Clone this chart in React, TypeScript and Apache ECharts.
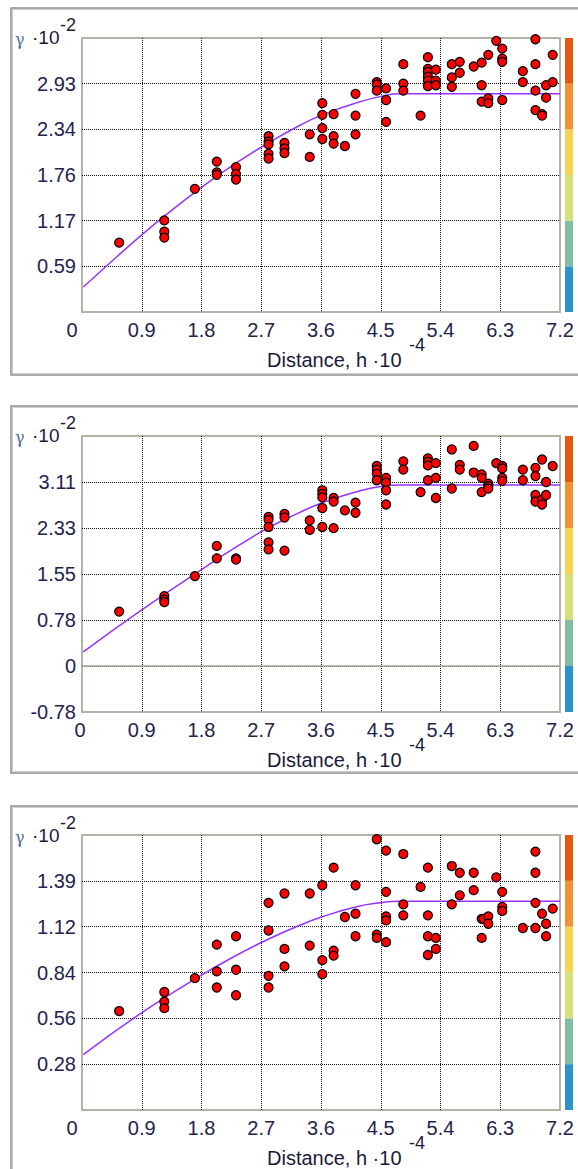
import React, { useEffect, useRef } from 'react';
import * as echarts from 'echarts';

// ---------- data ----------
const xTickLabels = ['0', '0.9', '1.8', '2.7', '3.6', '4.5', '5.4', '6.3', '7.2'];
const xMin = 0;
const xMax = 7.2;
const xInterval = 0.9;

const p1YLabels = ['0', '0.59', '1.17', '1.76', '2.34', '2.93', '3.52'];
const p1YMin = 0;
const p1YInterval = 0.586;

const p2YLabels = ['-0.78', '0', '0.78', '1.55', '2.33', '3.11', '3.89'];
const p2YMin = -0.7775;
const p2YInterval = 0.7775;

const p3YLabels = ['0', '0.28', '0.56', '0.84', '1.12', '1.39', '1.67'];
const p3YMin = 0;
const p3YInterval = 0.2788;

const p1Points = [
  [0.56, 0.89], [1.24, 1.175], [1.24, 1.03], [1.24, 0.955], [1.70, 1.58], [2.03, 1.93], [2.03, 1.79], [2.03, 1.76],
  [2.32, 1.86], [2.32, 1.77], [2.32, 1.70], [2.81, 2.255], [2.81, 2.19], [2.81, 2.15], [2.81, 2.03], [2.81, 1.97],
  [3.05, 2.17], [3.05, 2.10], [3.05, 2.04], [3.43, 2.28], [3.43, 1.99], [3.62, 2.68], [3.62, 2.53], [3.62, 2.36],
  [3.62, 2.22], [3.79, 2.54], [3.79, 2.255], [3.79, 2.16], [3.96, 2.13], [4.12, 2.80], [4.12, 2.52], [4.12, 2.28],
  [4.44, 2.95], [4.44, 2.92], [4.44, 2.84], [4.58, 2.87], [4.58, 2.72], [4.58, 2.44], [4.84, 3.18], [4.84, 2.93],
  [4.84, 2.84], [5.10, 2.52], [5.21, 3.27], [5.21, 3.12], [5.21, 3.08], [5.21, 3.02], [5.21, 2.97], [5.21, 2.90],
  [5.33, 3.11], [5.33, 2.97], [5.33, 2.91], [5.57, 3.18], [5.57, 3.01], [5.57, 2.89], [5.69, 3.21], [5.69, 3.07],
  [5.90, 3.54], [5.90, 3.15], [6.02, 3.20], [6.02, 2.91], [6.02, 2.70], [6.12, 3.30], [6.12, 2.74], [6.12, 2.68],
  [6.24, 3.48], [6.33, 3.38], [6.33, 3.25], [6.33, 3.21], [6.33, 2.72], [6.64, 3.09], [6.64, 2.95], [6.83, 3.50],
  [6.83, 3.18], [6.83, 2.84], [6.83, 2.59], [6.93, 2.54], [6.93, 2.52], [6.99, 2.91], [6.99, 2.75], [7.09, 3.30],
  [7.09, 2.95],
];
const p1Model = [
  [0.02, 0.32], [0.5, 0.69], [0.9, 0.99], [1.24, 1.23], [1.8, 1.60], [2.32, 1.91], [2.81, 2.17], [3.29, 2.40],
  [3.62, 2.53], [4.12, 2.68], [4.52, 2.77], [4.80, 2.80], [7.2, 2.80],
];

const p2Points = [
  [0.56, 0.92], [1.24, 1.18], [1.24, 1.12], [1.24, 1.08], [1.70, 1.52], [2.03, 2.03], [2.03, 1.82], [2.32, 1.82],
  [2.32, 1.80], [2.81, 2.52], [2.81, 2.47], [2.81, 2.35], [2.81, 2.09], [2.81, 1.97], [3.05, 2.57], [3.05, 2.51],
  [3.05, 1.95], [3.43, 2.46], [3.43, 2.30], [3.62, 2.97], [3.62, 2.91], [3.62, 2.85], [3.62, 2.67], [3.62, 2.35],
  [3.79, 2.84], [3.79, 2.78], [3.79, 2.33], [3.96, 2.63], [4.12, 2.76], [4.12, 2.59], [4.44, 3.38], [4.44, 3.32],
  [4.44, 3.25], [4.44, 3.14], [4.58, 3.18], [4.58, 3.10], [4.58, 2.97], [4.58, 2.73], [4.84, 3.46], [4.84, 3.32],
  [5.10, 2.94], [5.21, 3.51], [5.21, 3.45], [5.21, 3.39], [5.21, 3.14], [5.33, 3.43], [5.33, 3.18], [5.33, 2.84],
  [5.57, 3.91], [5.57, 3.66], [5.57, 3.00], [5.69, 3.40], [5.69, 3.32], [5.90, 3.72], [5.90, 3.27], [6.02, 3.24],
  [6.02, 3.18], [6.02, 2.94], [6.12, 3.08], [6.12, 3.04], [6.12, 3.00], [6.24, 3.43], [6.33, 3.38], [6.33, 3.34],
  [6.33, 3.18], [6.33, 3.13], [6.64, 3.32], [6.64, 3.14], [6.83, 3.35], [6.83, 3.21], [6.83, 2.89], [6.83, 2.78],
  [6.93, 3.49], [6.93, 2.81], [6.93, 2.73], [6.99, 3.11], [6.99, 2.89], [7.09, 3.38],
];
const p2Model = [
  [0.02, 0.24], [0.9, 0.95], [1.8, 1.63], [2.7, 2.27], [3.29, 2.60], [3.62, 2.76], [4.12, 2.94], [4.52, 3.04],
  [4.8, 3.06], [7.2, 3.06],
];

const p3Points = [
  [0.56, 0.602], [1.24, 0.718], [1.24, 0.659], [1.24, 0.620], [1.70, 0.802], [2.03, 1.006], [2.03, 0.843],
  [2.03, 0.745], [2.32, 1.057], [2.32, 0.853], [2.32, 0.698], [2.81, 1.26], [2.81, 1.092], [2.81, 0.816],
  [2.81, 0.745], [3.05, 1.317], [3.05, 0.98], [3.05, 0.874], [3.43, 1.317], [3.43, 1.0], [3.62, 1.367],
  [3.62, 0.912], [3.62, 0.827], [3.79, 1.474], [3.79, 0.969], [3.79, 0.939], [3.96, 1.174], [4.12, 1.367],
  [4.12, 1.194], [4.12, 1.057], [4.44, 1.647], [4.44, 1.067], [4.44, 1.047], [4.58, 1.578], [4.58, 1.327],
  [4.58, 1.178], [4.58, 1.153], [4.58, 1.021], [4.84, 1.557], [4.84, 1.251], [4.84, 1.184], [5.10, 1.357],
  [5.21, 1.474], [5.21, 1.184], [5.21, 1.057], [5.21, 0.943], [5.33, 1.047], [5.33, 0.98], [5.57, 1.484],
  [5.57, 1.251], [5.69, 1.443], [5.69, 1.306], [5.90, 1.443], [5.90, 1.337], [6.02, 1.163], [6.05, 1.163],
  [6.02, 1.047], [6.12, 1.178], [6.12, 1.133], [6.24, 1.415], [6.33, 1.327], [6.33, 1.235], [6.33, 1.211],
  [6.64, 1.107], [6.83, 1.572], [6.83, 1.443], [6.83, 1.26], [6.83, 1.107], [6.93, 1.194], [6.99, 1.133],
  [6.99, 1.057], [7.09, 1.225],
];
const p3Model = [
  [0.02, 0.337], [0.93, 0.600], [1.8, 0.82], [2.32, 0.94], [2.81, 1.04], [3.29, 1.125], [3.62, 1.175],
  [4.12, 1.235], [4.52, 1.262], [4.75, 1.27], [7.2, 1.27],
];

// colour bar bands, bottom to top
const bandColors = ['#2d94c9', '#7fbea0', '#d3e17c', '#f6d453', '#ef9334', '#e2590f'];
const bandValues = [1, 1, 1, 1, 1, 1];

const yTitleBase = 'γ';
const yTitleUnit = '·10';
const yTitleExp = '-2';
const xTitleText = 'Distance, h ·10';
const xTitleExp = '-4';

// ---------- layout ----------
const FONT = '"Liberation Sans", Arial, sans-serif';
const LABEL_COLOR = '#23234f';
const TICK_FONT = 20;
const panels = [
  { frameTop: 8, plotTop: 38, plotHeight: 274, yMin: p1YMin, yInt: p1YInterval, yLabels: p1YLabels, showYMin: false, zeroOffset: -10, points: p1Points, model: p1Model, zeroLine: false },
  { frameTop: 406, plotTop: 436, plotHeight: 276, yMin: p2YMin, yInt: p2YInterval, yLabels: p2YLabels, showYMin: true, zeroOffset: -2, points: p2Points, model: p2Model, zeroLine: true },
  { frameTop: 806, plotTop: 835, plotHeight: 275, yMin: p3YMin, yInt: p3YInterval, yLabels: p3YLabels, showYMin: false, zeroOffset: -10, points: p3Points, model: p3Model, zeroLine: false },
];
const PLOT_LEFT = 82;
const PLOT_WIDTH = 478;

function buildOption() {
  const grid: any[] = [];
  const xAxis: any[] = [];
  const yAxis: any[] = [];
  const series: any[] = [];
  const graphic: any[] = [];

  panels.forEach((p, i) => {
    const yMax = p.yMin + p.yInt * (p.yLabels.length - 1);
    const gi = grid.length;
    grid.push({
      left: PLOT_LEFT, top: p.plotTop, width: PLOT_WIDTH, height: p.plotHeight,
      show: true, borderColor: '#b6b2a6', borderWidth: 2, backgroundColor: '#fff', z: 0,
    });
    grid.push({ left: 565, top: p.plotTop, width: 8, height: p.plotHeight });

    const pad = -p.zeroOffset * 2;
    xAxis.push({
      gridIndex: gi, type: 'value', min: xMin, max: xMax, interval: xInterval,
      axisLine: { show: false }, axisTick: { show: false },
      splitLine: { show: true, showMinLine: false, showMaxLine: false, lineStyle: { color: '#111', type: [1, 1], width: 1 } },
      axisLabel: {
        margin: 8, fontSize: TICK_FONT, fontFamily: FONT, color: LABEL_COLOR,
        formatter: (v: number) => {
          const idx = Math.round((v - xMin) / xInterval);
          return idx === 0 ? '{z|' + xTickLabels[0] + '}' : xTickLabels[idx];
        },
        rich: { z: { fontSize: TICK_FONT, fontFamily: FONT, color: LABEL_COLOR, padding: [0, pad, 0, 0] } },
      },
    });
    yAxis.push({
      gridIndex: gi, type: 'value', min: p.yMin, max: yMax, interval: p.yInt,
      axisLine: { show: false }, axisTick: { show: false },
      splitLine: { show: true, showMinLine: false, showMaxLine: false, lineStyle: { color: '#111', type: [1, 1], width: 1 } },
      axisLabel: {
        margin: 6, fontSize: TICK_FONT, fontFamily: FONT, color: LABEL_COLOR,
        showMinLabel: p.showYMin, showMaxLabel: false,
        formatter: (v: number) => p.yLabels[Math.round((v - p.yMin) / p.yInt)],
      },
    });
    xAxis.push({ gridIndex: gi + 1, type: 'category', data: ['c'], show: false });
    yAxis.push({ gridIndex: gi + 1, type: 'value', min: 0, max: 6, show: false });

    series.push({
      type: 'line', xAxisIndex: gi, yAxisIndex: gi, data: p.model, showSymbol: false,
      smooth: 0.5, lineStyle: { color: '#9933ff', width: 1.5 }, z: 3,
      markLine: p.zeroLine ? {
        silent: true, symbol: 'none', label: { show: false },
        lineStyle: { color: '#aaa69a', width: 1.5, type: 'solid' },
        data: [{ yAxis: 0 }],
      } : undefined,
    });
    series.push({
      type: 'scatter', xAxisIndex: gi, yAxisIndex: gi, data: p.points, symbolSize: 9,
      itemStyle: { color: '#ff0000', borderColor: '#000', borderWidth: 1.2, opacity: 1 }, z: 4,
    });
    bandValues.forEach((v, k) => {
      series.push({
        type: 'bar', xAxisIndex: gi + 1, yAxisIndex: gi + 1, stack: 'cb' + i, data: [v],
        barWidth: '100%', itemStyle: { color: bandColors[k] },
      });
    });

    // frame
    graphic.push({
      type: 'rect', shape: { x: 11, y: p.frameTop, width: 580, height: 367 },
      style: { fill: 'none', stroke: '#8e8e8e', lineWidth: 1.5 }, z: 10,
    });
    graphic.push({
      type: 'rect', shape: { x: 12.5, y: p.frameTop + 1.5, width: 580, height: 364 },
      style: { fill: 'none', stroke: '#d0cdc4', lineWidth: 1 }, z: 10,
    });
    // y title
    graphic.push({
      type: 'text', x: 15, y: p.frameTop + 31,
      style: { text: yTitleBase, fontSize: 16, fontFamily: 'DejaVu Serif, serif', fill: '#4b6d9e', verticalAlign: 'middle' }, z: 10,
    });
    graphic.push({
      type: 'text', x: 32, y: p.frameTop + 29,
      style: { text: yTitleUnit, fontSize: 19, fontFamily: FONT, fill: '#1a1a3a', verticalAlign: 'middle' }, z: 10,
    });
    graphic.push({
      type: 'text', x: 60, y: p.frameTop + 17,
      style: { text: yTitleExp, fontSize: 18, fontFamily: FONT, fill: '#1a1a3a', verticalAlign: 'middle' }, z: 10,
    });
    // x title
    const bottom = p.plotTop + p.plotHeight;
    graphic.push({
      type: 'text', x: 267, y: bottom + 48,
      style: { text: xTitleText, fontSize: 20, fontFamily: FONT, fill: '#1a1a3a', verticalAlign: 'middle' }, z: 10,
    });
    graphic.push({
      type: 'text', x: 409, y: bottom + 33,
      style: { text: xTitleExp, fontSize: 18, fontFamily: FONT, fill: '#1a1a3a', verticalAlign: 'middle' }, z: 10,
    });
  });

  return { animation: false, backgroundColor: '#fff', grid, xAxis, yAxis, series, graphic };
}

export default function App() {
  const ref = useRef<HTMLDivElement>(null);
  useEffect(() => {
    if (!ref.current) return;
    const chart = echarts.init(ref.current, undefined, { renderer: 'svg' });
    chart.setOption(buildOption() as any);
    return () => chart.dispose();
  }, []);
  return (
    <div
      ref={ref}
      style={{ position: 'absolute', left: 0, top: 0, width: 578, height: 1169, background: '#fff' }}
    />
  );
}
